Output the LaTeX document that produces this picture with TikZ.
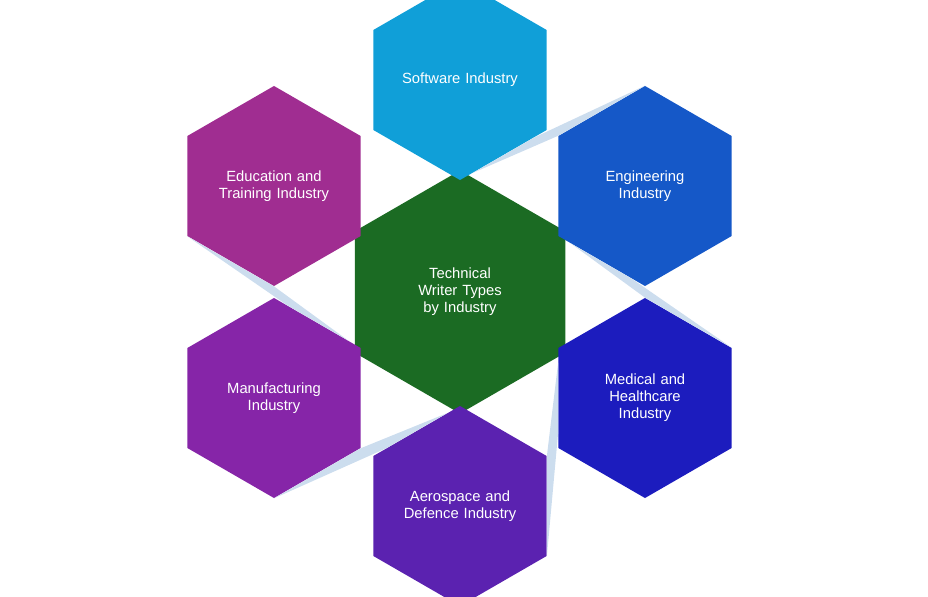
\documentclass[tikz,border=0pt]{standalone}
\usepackage{fontspec}
\setmainfont{Liberation Sans}
\usetikzlibrary{shapes.geometric, calc}

\definecolor{softc}{HTML}{109FD8}
\definecolor{engc}{HTML}{1558C8}
\definecolor{medc}{HTML}{1C1CBE}
\definecolor{aeroc}{HTML}{5B22B0}
\definecolor{manuc}{HTML}{8625A8}
\definecolor{educ}{HTML}{A02D91}
\definecolor{centc}{HTML}{1B6B23}
\definecolor{linkc}{HTML}{CCDDEE}

\tikzset{
  hexa/.style={regular polygon, regular polygon sides=6, shape border rotate=30,
    minimum size=5cm, inner sep=0pt, text=white, align=center, text width=3cm,
    font=\fontsize{10.5}{12}\selectfont},
  link/.style={fill=linkc, draw=none}
}

\begin{document}
\begin{tikzpicture}[x=0.025cm, y=-0.025cm]
    \useasboundingbox (0,0) rectangle (928,597);
    \clip (0,0) rectangle (928,597);

    % Hexagons
    \node[hexa, fill=centc, minimum size=6.075cm] (cent) at (460,292) {Technical Writer Types\\by Industry};
    \node[hexa, fill=softc] (soft) at (460,80) {Software Industry};
    \node[hexa, fill=engc] (eng) at (645,186) {Engineering\\Industry};
    \node[hexa, fill=medc] (med) at (645,398) {Medical and\\Healthcare\\Industry};
    \node[hexa, fill=aeroc] (aero) at (460,506) {Aerospace and\\Defence Industry};
    \node[hexa, fill=manuc] (manu) at (274,398) {Manufacturing\\Industry};
    \node[hexa, fill=educ] (edu) at (274,186) {Education and\\Training Industry};

    % Connectors between neighbours
    \foreach \a/\i/\j/\b/\k/\l in {soft/4/5/eng/1/2, eng/3/4/med/6/1, med/2/3/aero/5/6,
                                   aero/1/2/manu/4/5, manu/1/6/edu/4/3}
    {
        \fill[link] ($(\a.corner \i)!0.15!(\a.corner \j)$) -- ($(\a.corner \i)!0.85!(\a.corner \j)$)
            -- (\b.corner \k) -- (\b.corner \l) -- cycle;
    }
\end{tikzpicture}
\end{document}
